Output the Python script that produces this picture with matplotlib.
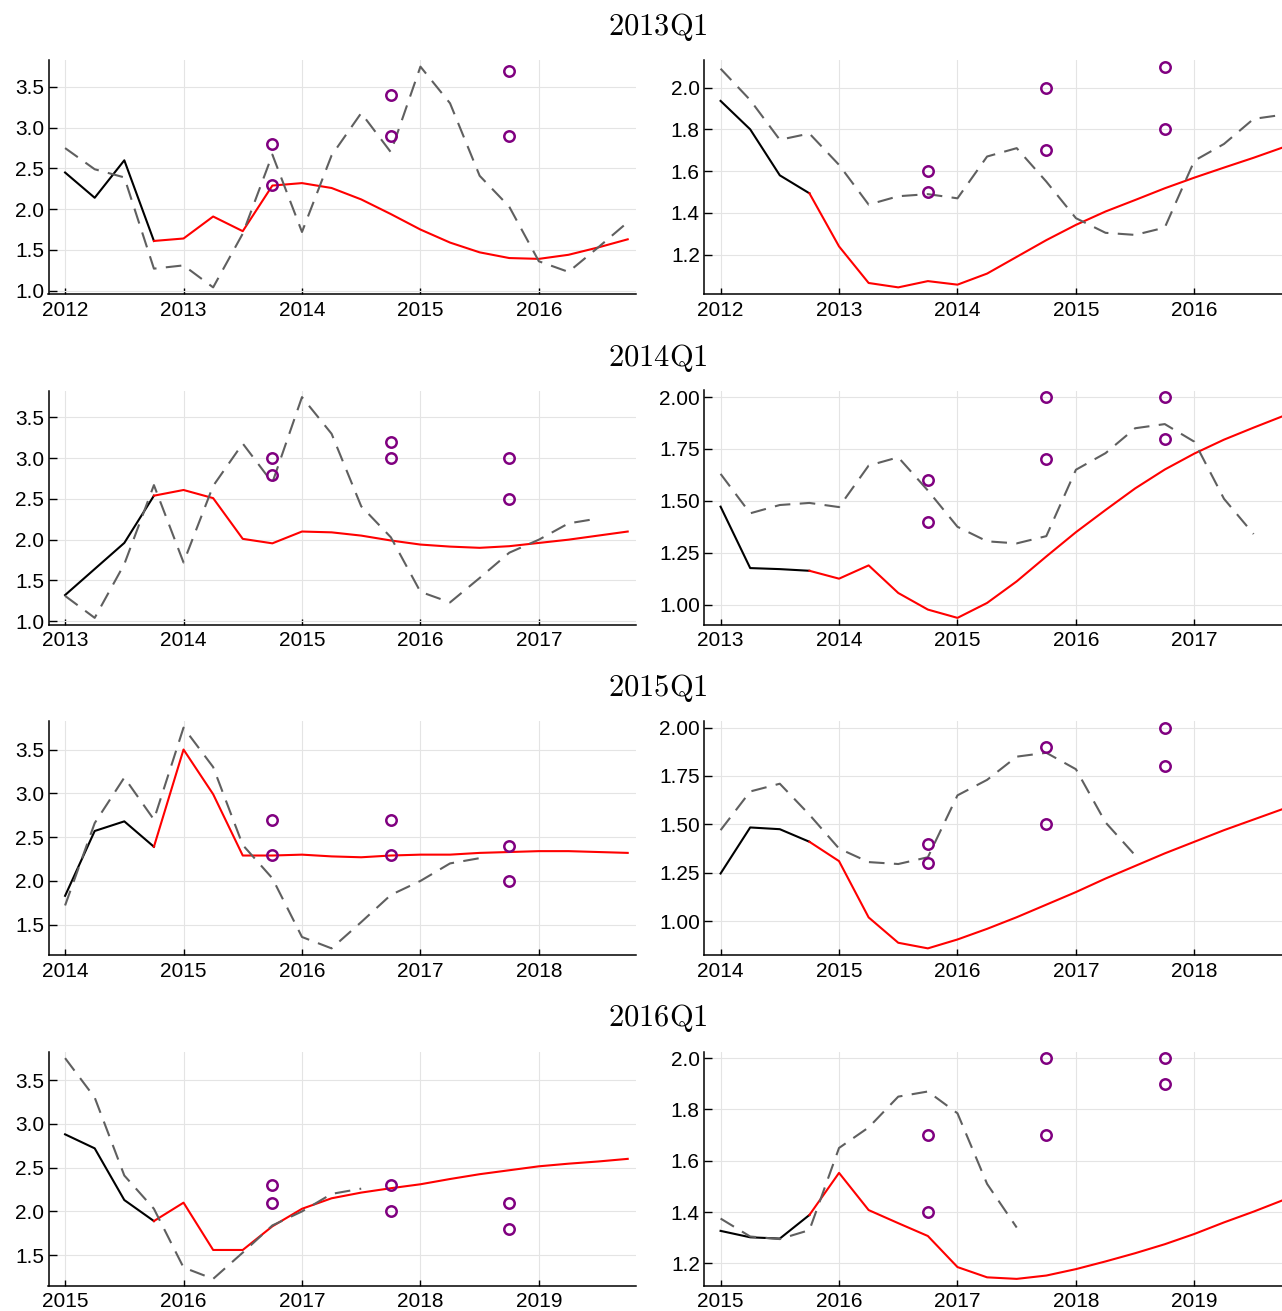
import numpy as np
import matplotlib.pyplot as plt
from matplotlib.ticker import MultipleLocator, FormatStrFormatter

plt.rcParams['font.family'] = ['Liberation Sans', 'DejaVu Sans']
plt.rcParams['mathtext.fontset'] = 'cm'

# vintages (one row each) and first year of each plotting window
vintages = ["2013Q1", "2014Q1", "2015Q1", "2016Q1"]
window_start = [2012, 2013, 2014, 2015]

# realised series (dashed), quarterly from 2012Q1
actual_start = 2012.0
actual_left = [2.75, 2.49, 2.39, 1.27, 1.31, 1.04, 1.70, 2.67, 1.72, 2.66, 3.18, 2.70,
               3.75, 3.30, 2.41, 2.03, 1.36, 1.23, 1.53, 1.84, 2.00, 2.20, 2.26]
actual_right = [2.09, 1.94, 1.75, 1.78, 1.63, 1.44, 1.48, 1.49, 1.47, 1.67, 1.71, 1.55,
                1.375, 1.305, 1.295, 1.33, 1.65, 1.73, 1.85, 1.87, 1.785, 1.51, 1.34]

# history known at each vintage (4 quarters of previous year)
hist_left = [
    [2.45, 2.14, 2.60, 1.61],
    [1.32, 1.64, 1.96, 2.54],
    [1.83, 2.57, 2.68, 2.39],
    [2.88, 2.72, 2.13, 1.89],
]
hist_right = [
    [1.936, 1.80, 1.58, 1.494],
    [1.472, 1.176, 1.171, 1.163],
    [1.246, 1.484, 1.475, 1.41],
    [1.327, 1.302, 1.297, 1.389],
]

# model forecasts, Q1 of vintage year through Q4 three years on
fcst_left = [
    [1.64, 1.91, 1.73, 2.29, 2.32, 2.26, 2.12, 1.94, 1.75, 1.59, 1.47, 1.40, 1.39, 1.44, 1.53, 1.63],
    [2.61, 2.51, 2.01, 1.955, 2.10, 2.09, 2.05, 1.99, 1.94, 1.915, 1.90, 1.92, 1.96, 2.00, 2.05, 2.10],
    [3.50, 2.99, 2.29, 2.29, 2.30, 2.28, 2.27, 2.29, 2.30, 2.30, 2.32, 2.33, 2.34, 2.34, 2.33, 2.32],
    [2.10, 1.56, 1.56, 1.83, 2.03, 2.15, 2.215, 2.265, 2.31, 2.37, 2.425, 2.47, 2.515, 2.545, 2.57, 2.60],
]
fcst_right = [
    [1.24, 1.065, 1.044, 1.074, 1.057, 1.11, 1.19, 1.27, 1.343, 1.407, 1.462, 1.518, 1.569, 1.617, 1.664, 1.714],
    [1.125, 1.189, 1.056, 0.976, 0.936, 1.008, 1.112, 1.232, 1.349, 1.456, 1.56, 1.651, 1.728, 1.795, 1.853, 1.909],
    [1.31, 1.019, 0.888, 0.859, 0.905, 0.96, 1.02, 1.085, 1.15, 1.22, 1.285, 1.35, 1.41, 1.47, 1.525, 1.58],
    [1.553, 1.408, 1.357, 1.307, 1.186, 1.146, 1.14, 1.153, 1.178, 1.208, 1.24, 1.275, 1.315, 1.36, 1.402, 1.447],
]

# survey points (Q4 of each of the 3 forecast years): upper and lower
survey_left_hi = [[2.8, 3.4, 3.7], [3.0, 3.2, 3.0], [2.7, 2.7, 2.4], [2.3, 2.3, 2.1]]
survey_left_lo = [[2.3, 2.9, 2.9], [2.8, 3.0, 2.5], [2.3, 2.3, 2.0], [2.1, 2.0, 1.8]]
survey_right_hi = [[1.6, 2.0, 2.1], [1.6, 2.0, 2.0], [1.4, 1.9, 2.0], [1.7, 2.0, 2.0]]
survey_right_lo = [[1.5, 1.7, 1.8], [1.4, 1.7, 1.8], [1.3, 1.5, 1.8], [1.4, 1.7, 1.9]]

ytick_step_left = [0.5, 0.5, 0.5, 0.5]
ytick_step_right = [0.2, 0.25, 0.25, 0.2]

W, H = 1282, 1311
fig = plt.figure(figsize=(W / 100, H / 100), dpi=100)

RED = "#ff0000"
GRAY = "#5f5f5f"
PURPLE = "#800080"


def draw_panel(ax, start, actual, hist, fcst, s_hi, s_lo, ystep):
    t_act = actual_start + 0.25 * np.arange(len(actual))
    act = np.array(actual)
    keep = (t_act >= start) & (t_act <= start + 4.75)
    t_hist = start + 0.25 * np.arange(len(hist))
    t_fc = start + 0.75 + 0.25 * np.arange(len(fcst) + 1)
    t_sv = start + 1.75 + np.arange(len(s_hi))

    ax.plot(t_hist, hist, color="black", lw=1.5, zorder=3)
    ax.plot(t_fc, [hist[-1]] + list(fcst), color=RED, lw=1.5, zorder=3)
    ax.plot(t_act[keep], act[keep], color=GRAY, lw=1.5, ls=(0, (7.5, 4.5)), zorder=4)
    for vals in (s_hi, s_lo):
        ax.plot(t_sv, vals, ls="none", marker="o", ms=7.5, mfc="none",
                mec=PURPLE, mew=1.8, zorder=5)

    ax.set_xlim(start - 0.14, start + 4.82)
    ax.margins(y=0.03)
    ax.xaxis.set_major_locator(MultipleLocator(1))
    ax.xaxis.set_major_formatter(FormatStrFormatter("%d"))
    ax.yaxis.set_major_locator(MultipleLocator(ystep))
    ax.grid(True, color="#e4e4e4", lw=0.8)
    ax.set_axisbelow(True)
    for side in ("top", "right"):
        ax.spines[side].set_visible(False)
    for side in ("left", "bottom"):
        ax.spines[side].set_linewidth(1.1)
    ax.tick_params(axis="both", direction="in", labelsize=15, colors="black")
    ax.tick_params(axis="y", length=6, width=1.0, pad=3)
    ax.tick_params(axis="x", length=4, width=1.0, pad=5)


row_pitch = 330.5
for r, vint in enumerate(vintages):
    top = 60 + row_pitch * r
    bot = 294 + row_pitch * r
    y0 = 1 - bot / H
    h = (bot - top) / H
    ax_l = fig.add_axes([48.5 / W, y0, 587.5 / W, h])
    ax_r = fig.add_axes([704 / W, y0, 587.5 / W, h])
    s = window_start[r]
    draw_panel(ax_l, s, actual_left, hist_left[r], fcst_left[r],
               survey_left_hi[r], survey_left_lo[r], ytick_step_left[r])
    draw_panel(ax_r, s, actual_right, hist_right[r], fcst_right[r],
               survey_right_hi[r], survey_right_lo[r], ytick_step_right[r])
    fig.text(658 / W, 1 - (27 + row_pitch * r) / H, r"$\mathrm{" + vint + "}$",
             ha="center", va="center", fontsize=22)

fig.savefig("out.png", dpi=100)
